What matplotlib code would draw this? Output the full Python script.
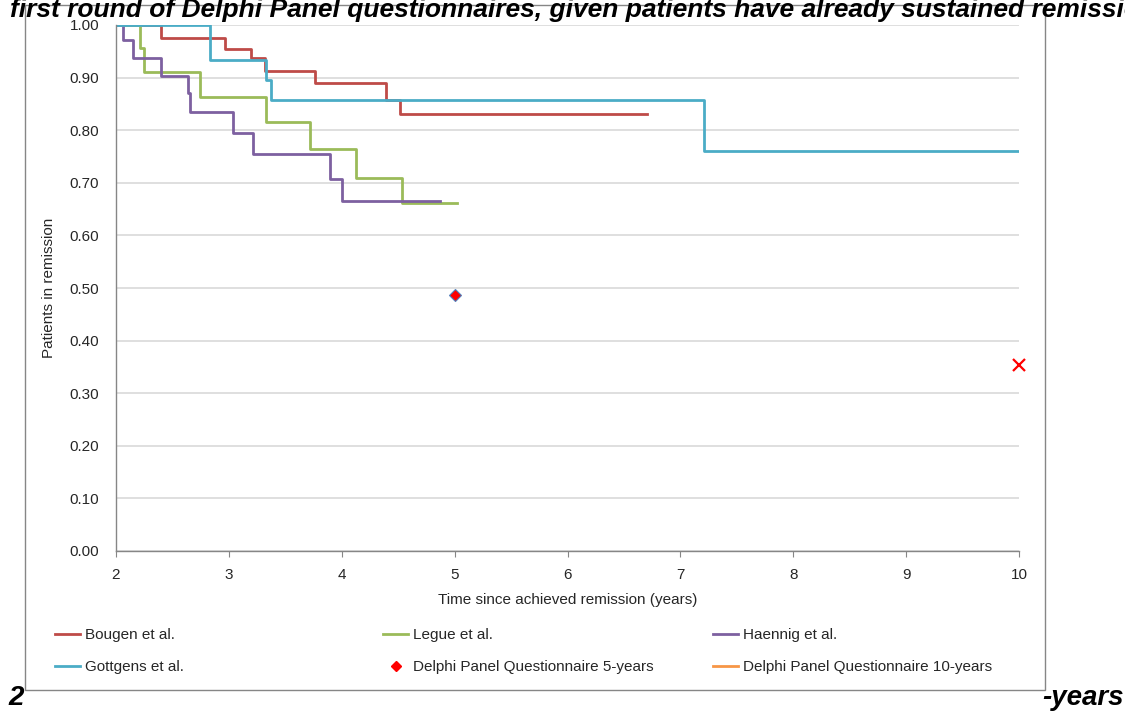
import matplotlib.pyplot as plt
from matplotlib.lines import Line2D
from matplotlib.patches import Rectangle

plt.rcParams['font.family'] = ['Liberation Sans', 'DejaVu Sans']

# Kaplan-Meier style curves (years, fraction in remission)
bougen_t = [2.0, 2.40, 2.97, 3.20, 3.32, 3.76, 4.39, 4.52, 6.70]
bougen_s = [1.0, 0.975, 0.955, 0.937, 0.913, 0.889, 0.857, 0.831, 0.831]

legue_t = [2.0, 2.21, 2.25, 2.74, 3.33, 3.72, 4.13, 4.53, 5.02]
legue_s = [1.0, 0.956, 0.911, 0.864, 0.816, 0.764, 0.710, 0.662, 0.662]

haennig_t = [2.0, 2.06, 2.15, 2.40, 2.64, 2.66, 3.04, 3.21, 3.90, 4.00, 4.87]
haennig_s = [1.0, 0.971, 0.937, 0.903, 0.870, 0.835, 0.794, 0.754, 0.707, 0.665, 0.665]

gottgens_t = [2.0, 2.83, 3.33, 3.37, 7.21, 10.0]
gottgens_s = [1.0, 0.933, 0.895, 0.857, 0.760, 0.760]

delphi5 = (5.0, 0.487)
delphi10 = (10.0, 0.354)

x_ticks = [2, 3, 4, 5, 6, 7, 8, 9, 10]
y_ticks = [0.0, 0.1, 0.2, 0.3, 0.4, 0.5, 0.6, 0.7, 0.8, 0.9, 1.0]

c_red = '#BE4B48'
c_green = '#9BBB59'
c_purple = '#7D60A0'
c_blue = '#4BACC6'
c_orange = '#F79646'

W, H = 1125, 711
fig = plt.figure(figsize=(W / 100, H / 100), dpi=100)

# chart frame
fig.patches.append(Rectangle((25 / W, 1 - 690 / H), 1020 / W, 685 / H,
                             transform=fig.transFigure, fill=False,
                             edgecolor='#868686', linewidth=1.0))

ax = fig.add_axes([116 / W, 1 - 551 / H, 903 / W, 526 / H])

lw = 2.0
ax.step(bougen_t, bougen_s, where='post', color=c_red, lw=lw, label='Bougen et al.')
ax.step(legue_t, legue_s, where='post', color=c_green, lw=lw, label='Legue et al.')
ax.step(haennig_t, haennig_s, where='post', color=c_purple, lw=lw, label='Haennig et al.')
ax.step(gottgens_t, gottgens_s, where='post', color=c_blue, lw=lw, label='Gottgens et al.')
ax.plot([delphi5[0]], [delphi5[1]], linestyle='none', marker='D', markersize=6.5,
        markerfacecolor='#FF0000', markeredgecolor='#4F81BD', markeredgewidth=0.8,
        zorder=5)
ax.plot([delphi10[0]], [delphi10[1]], linestyle='none', marker='x', markersize=9,
        markeredgecolor='#FF0000', markeredgewidth=1.6, clip_on=False, zorder=5)

ax.set_xlim(2, 10)
ax.set_ylim(0, 1.0)
ax.set_xticks(x_ticks)
ax.set_yticks(y_ticks)
ax.set_yticklabels(['%.2f' % v for v in y_ticks])
ax.yaxis.grid(True, color='#D9D9D9', linewidth=1.2)
ax.set_axisbelow(True)
for s in ['top', 'right']:
    ax.spines[s].set_visible(False)
for s in ['left', 'bottom']:
    ax.spines[s].set_color('#868686')
    ax.spines[s].set_linewidth(1.0)
ax.tick_params(axis='x', length=4, color='#868686', pad=8, labelsize=11, labelcolor='#262626')
ax.tick_params(axis='y', length=0, pad=12, labelsize=11, labelcolor='#262626')
ax.set_xlabel('Time since achieved remission (years)', fontsize=11, color='#262626', labelpad=8)
ax.set_ylabel('Patients in remission', fontsize=11, color='#262626', labelpad=10)


# legend, three columns placed by hand
def h_line(c):
    return Line2D([], [], color=c, lw=lw)


cols = [
    (55, [h_line(c_red), h_line(c_blue)], ['Bougen et al.', 'Gottgens et al.']),
    (383, [h_line(c_green),
           Line2D([], [], linestyle='none', marker='D', markersize=5,
                  markerfacecolor='#FF0000', markeredgecolor='#FF0000')],
     ['Legue et al.', 'Delphi Panel Questionnaire 5-years']),
    (713, [h_line(c_purple), h_line(c_orange)],
     ['Haennig et al.', 'Delphi Panel Questionnaire 10-years']),
]
for x0, hs, ls in cols:
    fig.legend(hs, ls, loc='upper left', bbox_to_anchor=(x0 / W, 1 - 628 / H),
               frameon=False, fontsize=11, borderpad=0, borderaxespad=0,
               handlelength=1.65, handletextpad=0.3, labelspacing=1.2,
               labelcolor='#262626')

# surrounding document text (cut by the page crop)
fig.text(10 / W, 1 - 17 / H,
         'first round of Delphi Panel questionnaires, given patients have already sustained remission',
         fontsize=19, fontweight='bold', style='italic', ha='left', va='baseline')
fig.text(8 / W, 1 - 705 / H, '2', fontsize=20, fontweight='bold',
         style='italic', ha='left', va='baseline')
fig.text(1124 / W, 1 - 705 / H, '-years', fontsize=20, fontweight='bold',
         style='italic', ha='right', va='baseline')

fig.savefig('out.png', dpi=100)
